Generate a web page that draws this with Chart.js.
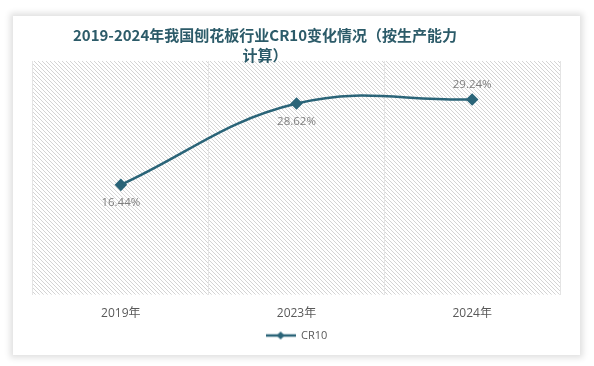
<!DOCTYPE html>
<html>
<head>
<meta charset="utf-8">
<script src="https://cdn.jsdelivr.net/npm/chart.js@4.4.0/dist/chart.umd.min.js"></script>
<style>
  html, body { margin: 0; padding: 0; background: #fff; }
  body { width: 594px; height: 366px; position: relative; overflow: hidden; }
  .card {
    position: absolute; left: 13px; top: 16px; width: 567px; height: 339px;
    background: #fff;
    box-shadow: 0 0 6px 3px rgba(0,0,0,0.12);
  }
</style>
</head>
<body>
<div class="card"><canvas id="chart" width="567" height="339"></canvas></div>
<script>
// data
const years = ['2019年', '2023年', '2024年'];
const cr10 = [16.44, 28.62, 29.24];
const seriesName = 'CR10';
const titleLines = ['2019-2024年我国刨花板行业CR10变化情况（按生产能力', '计算）'];

const lineColor = '#2a6478';

// hatched plot background
function makeHatch() {
    const c = document.createElement('canvas');
    c.width = 4; c.height = 4;
    const g = c.getContext('2d');
    g.fillStyle = '#ffffff';
    g.fillRect(0, 0, 4, 4);
    g.fillStyle = '#d4d4d4';
    for (let i = 0; i < 4; i++) g.fillRect(i, i, 1, 1);
    return c;
}

// legend icon: short line with a diamond in the middle
function makeLegendIcon() {
    const c = document.createElement('canvas');
    c.width = 30; c.height = 10;
    const g = c.getContext('2d');
    g.strokeStyle = lineColor;
    g.lineWidth = 2.5;
    g.beginPath(); g.moveTo(0, 5); g.lineTo(30, 5); g.stroke();
    g.fillStyle = lineColor;
    g.beginPath(); g.moveTo(15, 1); g.lineTo(19, 5); g.lineTo(15, 9); g.lineTo(11, 5); g.closePath(); g.fill();
    return c;
}

const hatchPlugin = {
    id: 'hatch',
    beforeDraw(chart) {
        const { ctx, chartArea: a } = chart;
        ctx.save();
        ctx.fillStyle = ctx.createPattern(makeHatch(), 'repeat');
        ctx.fillRect(a.left, a.top, a.right - a.left, a.bottom - a.top);
        ctx.restore();
    }
};

const titlePlugin = {
    id: 'customTitle',
    afterDraw(chart) {
        const ctx = chart.ctx;
        ctx.save();
        ctx.fillStyle = '#2c5b69';
        ctx.font = 'bold 15px "Noto Sans CJK SC", sans-serif';
        ctx.textAlign = 'center';
        ctx.textBaseline = 'middle';
        ctx.fillText(titleLines[0], 252, 19);
        ctx.fillText(titleLines[1], 252, 39);
        ctx.restore();
    }
};

const labelPlugin = {
    id: 'valueLabels',
    afterDatasetsDraw(chart) {
        const ctx = chart.ctx;
        const meta = chart.getDatasetMeta(0);
        ctx.save();
        ctx.fillStyle = '#7f7f7f';
        ctx.font = '11.5px "Open Sans", "Noto Sans", sans-serif';
        ctx.textAlign = 'center';
        ctx.textBaseline = 'middle';
        meta.data.forEach((pt, i) => {
            // last point's label sits above, others below
            const dy = i === meta.data.length - 1 ? -15 : 18;
            ctx.fillText(cr10[i].toFixed(2) + '%', pt.x, pt.y + dy);
        });
        ctx.restore();
    }
};

const legendIcon = makeLegendIcon();

new Chart(document.getElementById('chart'), {
    type: 'line',
    data: {
        labels: years,
        datasets: [{
            label: seriesName,
            data: cr10,
            borderColor: lineColor,
            backgroundColor: lineColor,
            borderWidth: 2.5,
            tension: 0.4,
            pointStyle: 'rectRot',
            pointRadius: 4.5,
            pointBackgroundColor: lineColor,
            pointBorderColor: lineColor
        }]
    },
    options: {
        responsive: false,
        animation: false,
        layout: { padding: { left: 20, right: 20, top: 45, bottom: 4 } },
        plugins: {
            title: { display: false },
            tooltip: { enabled: false },
            legend: {
                position: 'bottom',
                labels: {
                    color: '#595959',
                    font: { size: 11, family: '"Open Sans", "Noto Sans", sans-serif' },
                    usePointStyle: true,
                    pointStyleWidth: 30,
                    padding: 2,
                    generateLabels(chart) {
                        return [{
                            text: seriesName,
                            pointStyle: legendIcon,
                            fillStyle: lineColor,
                            strokeStyle: lineColor,
                            lineWidth: 0,
                            datasetIndex: 0,
                            fontColor: '#595959'
                        }];
                    }
                }
            }
        },
        scales: {
            x: {
                offset: true,
                grid: { offset: true, color: '#e4e4e4', drawTicks: false },
                border: { display: false },
                ticks: {
                    color: '#595959',
                    padding: 12,
                    font: { size: 12, family: '"Open Sans", "Noto Sans CJK SC", sans-serif' }
                },
                afterFit(scale) { scale.height -= 5; }
            },
            y: {
                display: false,
                min: 0,
                max: 35
            }
        }
    },
    plugins: [hatchPlugin, titlePlugin, labelPlugin]
});
</script>
</body>
</html>
